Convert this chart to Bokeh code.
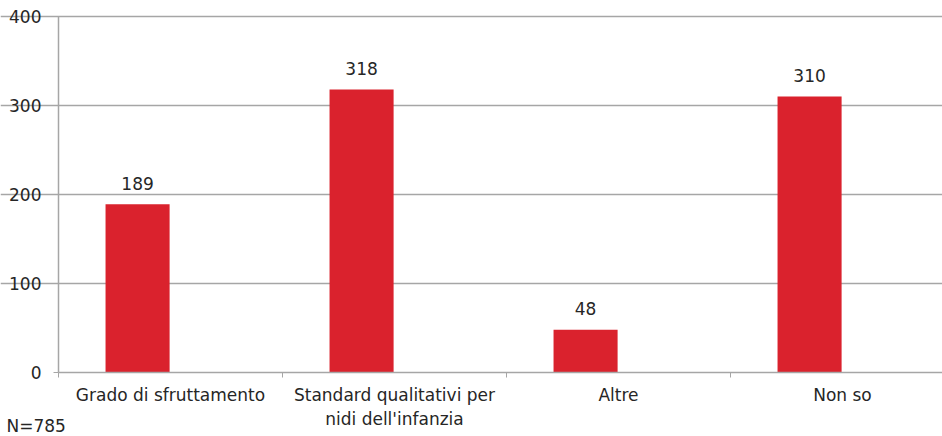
from bokeh.plotting import figure
from bokeh.models import FixedTicker, Range1d, ColumnDataSource, Label
from bokeh.embed import file_html
from bokeh.resources import INLINE
from bokeh.core.properties import value

categories = ["Grado di sfruttamento", "Standard qualitativi per\nnidi dell'infanzia", "Altre", "Non so"]
counts = [189, 318, 48, 310]
y_ticks = [0, 100, 200, 300, 400]
note = "N=785"

FONT = "DejaVu Sans"
RED = "#da222d"
GRID = "#a6a6a6"
TXT = "#262626"

W, H = 942, 436
AX_X, AX_Y, TOP_Y = 58, 372, 16       # pixel positions of the axes in the canvas
CAT_W = 224                            # pixel width of one category
PX_PER_UNIT = (AX_Y - TOP_Y) / 400.0

x_end = (W - AX_X) / CAT_W
x_start = -AX_X / CAT_W
y_start = -(H - AX_Y) / PX_PER_UNIT
y_end = 400 + TOP_Y / PX_PER_UNIT

n = len(categories)
centers = [i + 0.5 for i in range(n)]
bar_x = [i + 0.353 for i in range(n)]
src = ColumnDataSource(dict(x=bar_x, top=counts, lab=[str(c) for c in counts]))

p = figure(width=W, height=H, output_backend="svg", toolbar_location=None,
           x_range=Range1d(x_start, x_end), y_range=Range1d(y_start, y_end),
           min_border=0)
p.outline_line_color = None
p.background_fill_color = "white"
p.border_fill_color = "white"

p.vbar(x="x", top="top", width=0.286, bottom=0, source=src, fill_color=RED, line_color=None)
p.text(x="x", y="top", text="lab", source=src, text_align="center", text_baseline="alphabetic",
       y_offset=-21, text_font=value(FONT), text_font_size="17px", text_color=TXT)

xa = p.xaxis[0]
xa.fixed_location = 0
xa.bounds = (0, x_end)
xa.ticker = FixedTicker(ticks=centers, minor_ticks=[0, 1, 2, 3])
xa.major_label_overrides = {c: lab for c, lab in zip(centers, categories)}
xa.major_tick_line_color = None
xa.major_tick_out = 0
xa.major_tick_in = 0
xa.minor_tick_in = 0
xa.minor_tick_out = 5
xa.minor_tick_line_color = GRID
xa.axis_line_color = GRID
xa.axis_line_width = 1.5
xa.major_label_text_font = FONT
xa.major_label_text_font_size = "17px"
xa.major_label_text_color = TXT
xa.major_label_standoff = 7

ya = p.yaxis[0]
ya.fixed_location = 0
ya.bounds = (0, 400)
ya.ticker = FixedTicker(ticks=y_ticks)
ya.minor_tick_line_color = None
ya.major_tick_in = 0
ya.major_tick_out = 5
ya.major_tick_line_color = GRID
ya.axis_line_color = GRID
ya.axis_line_width = 1.5
ya.major_label_text_font = FONT
ya.major_label_text_font_size = "17px"
ya.major_label_text_color = TXT
ya.major_label_standoff = 12

p.xgrid.grid_line_color = None
p.ygrid.grid_line_color = GRID
p.ygrid.grid_line_width = 1.5
p.ygrid.ticker = FixedTicker(ticks=[100, 200, 300, 400])
p.ygrid.bounds = (0, x_end)

p.add_layout(Label(x=6, y=11, x_units="screen", y_units="screen", text=note,
                   text_font=FONT, text_font_size="17px", text_color=TXT,
                   text_baseline="middle"))

open("out.html", "w").write(file_html(p, INLINE))
